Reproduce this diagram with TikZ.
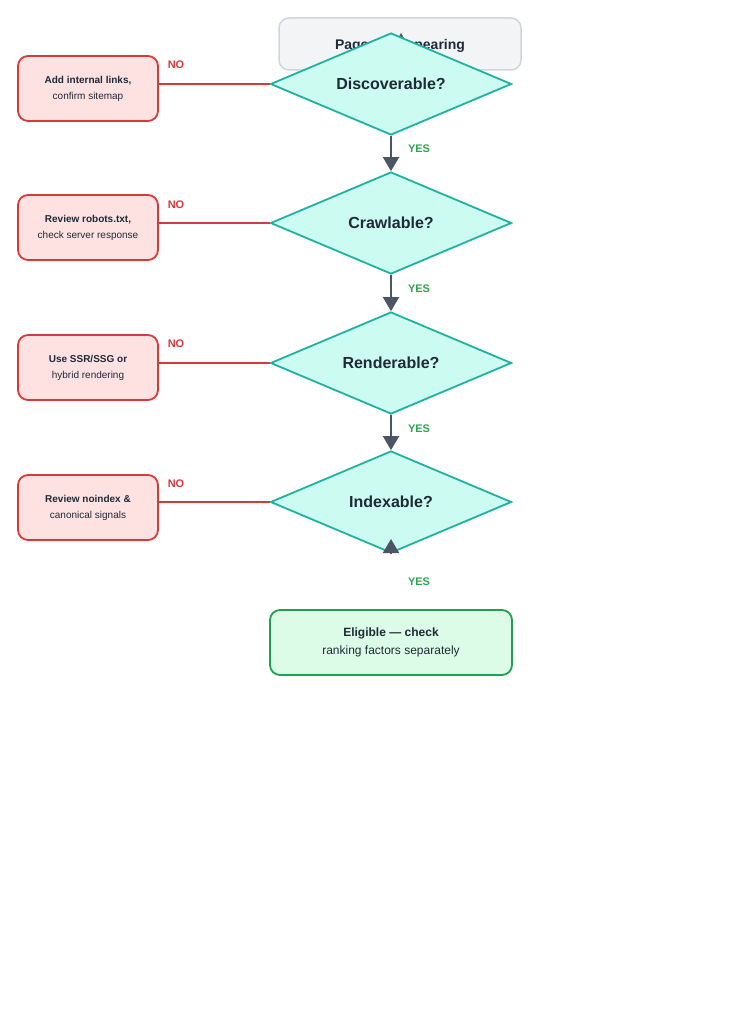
\documentclass[tikz,border=0pt]{standalone}
\usepackage{fontspec}
\setmainfont{Liberation Sans}
\usepackage{xcolor}
\usetikzlibrary{shapes.geometric,arrows.meta,positioning}

\definecolor{ink}{HTML}{1F2937}
\definecolor{topfill}{HTML}{F3F4F6}
\definecolor{topline}{HTML}{D1D5DB}
\definecolor{mint}{HTML}{CCFBF1}
\definecolor{tealline}{HTML}{20B2A0}
\definecolor{fixfill}{HTML}{FEE2E2}
\definecolor{fixline}{HTML}{D63A3A}
\definecolor{okfill}{HTML}{DCFCE7}
\definecolor{okline}{HTML}{22A04F}
\definecolor{arrowgray}{HTML}{4B5563}
\definecolor{yesgreen}{HTML}{2EA352}

\begin{document}
\begin{tikzpicture}[x=1pt, y=-1pt,
    topbox/.style={draw=topline, fill=topfill, rounded corners=10pt, line width=1.5pt, minimum width=242pt, minimum height=52pt, font=\fontsize{14}{16}\selectfont\bfseries, text=ink},
    test/.style={diamond, draw=tealline, fill=mint, line width=1.8pt, aspect=2.36, inner sep=0pt, minimum width=241pt, minimum height=102pt, font=\fontsize{16}{18}\selectfont\bfseries, text=ink},
    fixbox/.style={draw=fixline, fill=fixfill, rounded corners=10pt, line width=1.8pt, minimum width=140pt, minimum height=65pt, align=center, font=\fontsize{10}{16}\selectfont, text=ink},
    okbox/.style={draw=okline, fill=okfill, rounded corners=10pt, line width=1.8pt, minimum width=242pt, minimum height=65pt, align=center, font=\fontsize{12}{18}\selectfont, text=ink},
    arr/.style={-{Triangle[length=14pt,width=16pt]}, line width=2pt, draw=arrowgray, fill=arrowgray},
    nolink/.style={draw=fixline, line width=2pt},
    yestext/.style={font=\fontsize{11}{13}\selectfont\bfseries, text=yesgreen},
    notext/.style={font=\fontsize{11}{13}\selectfont\bfseries, text=fixline}
]
    \useasboundingbox (0,0) rectangle (745,1024);

    % Start
    \node[topbox] (page) at (400,44) {\raisebox{-2pt}[\height][\depth]{Page not appearing}};
    \coordinate (pagein) at (401,33);
    \draw[arr] (page.south -| pagein) -- (pagein);

    % Checks
    \node[test] (discover) at (391,84) {Discoverable?};
    \node[test] (crawl) at (391,223) {Crawlable?};
    \node[test] (render) at (391,363) {Renderable?};
    \node[test] (index) at (391,502) {Indexable?};

    % Fixes
    \node[fixbox] (links) at (88,88.5) {\textbf{Add internal links,}\\confirm sitemap};
    \node[fixbox] (robots) at (88,227.5) {\textbf{Review robots.txt,}\\check server response};
    \node[fixbox] (ssr) at (88,367.5) {\textbf{Use SSR/SSG or}\\hybrid rendering};
    \node[fixbox] (noindex) at (88,507.5) {\textbf{Review noindex \&}\\canonical signals};

    % Result
    \node[okbox] (eligible) at (391,642.5) {\textbf{Eligible — check}\\ranking factors separately};

    % NO branches
    \draw[nolink] (discover.west) -- (discover.west -| links.east);
    \draw[nolink] (crawl.west) -- (crawl.west -| robots.east);
    \draw[nolink] (render.west) -- (render.west -| ssr.east);
    \draw[nolink] (index.west) -- (index.west -| noindex.east);
    \node[notext] at (176,65) {NO};
    \node[notext] at (176,204.5) {NO};
    \node[notext] at (176,344) {NO};
    \node[notext] at (176,483.5) {NO};

    % YES branches
    \draw[arr] (discover.south) -- (crawl.north);
    \draw[arr] (crawl.south) -- (render.north);
    \draw[arr] (render.south) -- (index.north);
    \coordinate (indexout) at (391,539);
    \draw[arr] (index.south) -- (indexout);
    \node[yestext] at (419,149) {YES};
    \node[yestext] at (419,289) {YES};
    \node[yestext] at (419,428.5) {YES};
    \node[yestext] at (419,582) {YES};
\end{tikzpicture}
\end{document}
